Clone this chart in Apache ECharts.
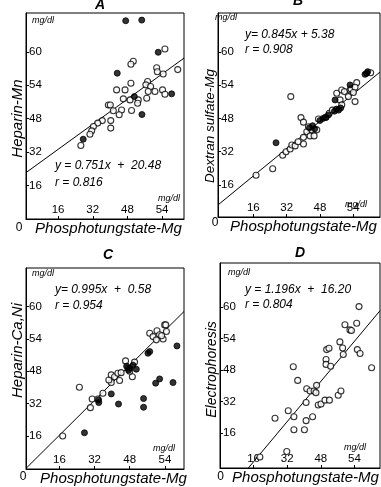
<!DOCTYPE html>
<html><head><meta charset="utf-8">
<script src="https://cdn.jsdelivr.net/npm/echarts@6/dist/echarts.min.js"></script>
<style>html,body{margin:0;padding:0;background:#fff}#c{width:381px;height:487px}</style>
</head><body><div id="c"></div>
<script>
// ---- data ----
const xTickValues = [16, 32, 48, 64];
const xTickLabels = ['16', '32', '48', '54'];
const yTickValues = [16, 32, 48, 64, 80];
const yTickLabels = ['16', '32', '48', '54', '60'];
const panelTitles = ['A', 'B', 'C', 'D'];
const yNames = ['Heparin-Mn', 'Dextran sulfate-Mg', 'Heparin-Ca,Ni', 'Electrophoresis'];
const xName = 'Phosphotungstate-Mg';
const unitText = 'mg/dl';
const originText = '0';
const equations = ['y = 0.751x  +  20.48', 'y= 0.845x + 5.38', 'y= 0.995x  +  0.58', 'y = 1.196x  +  16.20'];
const rTexts = ['r = 0.816', 'r = 0.908', 'r = 0.954', 'r = 0.804'];

const openA = [[65.3,81.4],[50.7,75.5],[49.6,74.1],[61.5,72.4],[61.8,70.5],[64.5,69.4],[71.2,71.5],[49.6,65.0],[57.3,65.8],[56.5,64.2],[58.7,63.4],[43.0,61.8],[46.9,61.8],[57.6,61.0],[60.7,61.0],[64.2,61.8],[65.3,59.7],[46.1,57.5],[49.2,57.0],[53.0,57.0],[56.9,57.8],[52.7,55.4],[39.2,54.6],[40.1,54.6],[45.3,52.2],[49.9,51.9],[41.5,51.8],[44.2,49.9],[36.4,47.1],[40.3,47.1],[34.3,45.9],[32.3,44.3],[40.3,43.5],[31.5,42.2],[30.7,40.6],[26.5,35.2]];
const filledA = [[47.2,94.9],[54.6,95.2],[62.2,79.8],[43.3,69.8],[51.2,58.6],[68.4,59.9],[54.7,50.0],[27.6,38.2]];
const lineA = [[1.2,22.2],[74.1,77.0]];

const openB = [[17.3,20.7],[25.3,23.8],[34.0,58.5],[30.1,30.3],[31.7,32.0],[33.7,33.3],[34.5,35.2],[36.1,34.8],[40.1,35.7],[38.9,48.4],[40.1,46.2],[40.1,38.9],[41.7,41.6],[43.3,39.6],[45.2,39.6],[44.1,42.5],[46.5,42.5],[47.3,47.7],[50.7,48.6],[56.1,60.1],[58.5,61.7],[57.7,56.9],[59.8,60.9],[61.7,58.5],[62.5,61.7],[63.0,62.2],[64.9,56.1],[65.7,65.2],[64.9,63.0],[64.1,60.5],[72.4,70.0],[58.5,54.5],[37.5,36.8],[42.5,44.0],[52.5,50.5],[54.0,52.0]];
const filledB = [[26.9,36.3],[43.0,43.5],[44.5,44.5],[45.5,43.0],[48.0,47.0],[49.5,48.0],[51.0,48.5],[52.1,49.7],[55.0,51.5],[56.0,52.5],[57.0,52.0],[58.0,53.0],[55.3,56.9],[62.5,64.1],[70.5,69.7],[69.7,69.2],[71.0,70.5]];
const lineB = [[-1.0,6.4],[76.9,70.3]];

const openC = [[17.5,16.0],[25.1,40.1],[30.1,30.0],[30.9,34.3],[33.5,34.3],[35.8,37.1],[39.6,42.4],[38.5,43.7],[39.6,46.2],[41.1,45.3],[43.4,43.4],[42.6,47.0],[44.1,47.3],[46.1,53.1],[47.2,49.5],[49.2,45.3],[50.2,52.5],[57.1,66.8],[58.6,65.1],[60.4,68.0],[61.6,66.0],[60.1,63.5],[63.2,63.9],[63.9,70.9],[64.4,70.9],[64.7,67.6],[62.5,65.5],[48.0,48.0]];
const filledC = [[27.4,17.6],[33.9,32.5],[33.8,33.8],[39.6,36.8],[42.9,31.8],[54.3,34.5],[54.3,30.2],[56.3,56.9],[57.1,57.7],[59.8,42.1],[61.6,44.2],[67.7,42.4],[69.5,60.5],[46.6,50.5],[48.0,49.5],[49.5,51.0],[51.0,49.0],[47.5,48.5]];
const lineC = [[0.8,0.0],[72.7,77.5]];

const openD = [[19.0,3.9],[31.8,6.7],[26.2,23.5],[32.5,27.3],[34.9,49.6],[35.2,24.3],[35.2,17.7],[37.0,42.7],[40.2,17.7],[41.0,22.3],[41.0,31.5],[41.3,38.5],[42.9,37.3],[44.1,24.3],[44.8,37.3],[45.7,36.5],[46.0,40.2],[46.8,30.2],[48.1,30.7],[50.0,32.7],[52.1,32.7],[50.8,58.3],[51.9,59.0],[50.5,53.3],[50.5,50.8],[52.7,49.9],[56.3,35.2],[57.6,37.3],[57.1,62.2],[58.4,59.1],[58.7,55.8],[59.5,70.9],[61.9,68.3],[62.6,68.0],[65.1,71.7],[65.4,58.3],[66.7,56.3],[66.2,80.1],[72.2,49.1]];
const filledD = [];
const lineD = [[13.5,-1.7],[76.2,78.0]];

// ---- layout ----
const FONT = '"Liberation Sans", Arial, sans-serif';
const panels = [
  {open: openA, filled: filledA, line: lineA, grid: {left: 26, top: 13, width: 158, height: 206}, xr: [1.2, 74.1], yr: [0, 98.6], xGap: 1.5, xPad: [0,0,0,7], yGap: 1, yPad: [0,5,0,0], yFs: 15,
   title: [100, 5], eq: [55, 165.7], r: [55, 183], unitTop: [32, 20.7], unitBot: [180, 198], origin: [19, 228]},
  {open: openB, filled: filledB, line: lineB, grid: {left: 218, top: 13, width: 162, height: 204}, xr: [-1.0, 76.9], yr: [0.6, 98.7], xGap: -2, xPad: [0,0,0,9], yGap: 0, yPad: [0,22,0,0], yFs: 13.5,
   title: [298, 1], eq: [245, 35], r: [245, 50], unitTop: [215, 17.3], unitBot: [367, 204], origin: [215, 222.7]},
  {open: openC, filled: filledC, line: lineC, grid: {left: 26, top: 268, width: 158, height: 201}, xr: [0.8, 72.7], yr: [-0.3, 99], xGap: 0.5, xPad: [0,0,0,17], yGap: 0, yPad: [0,0,0,36], yFs: 15,
   title: [108, 255], eq: [55, 289.3], r: [55, 306], unitTop: [32, 273], unitBot: [175, 448], origin: [23, 477]},
  {open: openD, filled: filledD, line: lineD, grid: {left: 220, top: 263, width: 160, height: 205}, xr: [0, 76.2], yr: [-1.7, 102.2], xGap: 1.5, xPad: [0,0,0,11], yGap: 0, yPad: [0,8,0,0], yFs: 14,
   title: [300, 253], eq: [245, 290], r: [245, 305], unitTop: [228, 272], unitBot: [366, 447], origin: [220.7, 477]}
];

const grids = [], xAxes = [], yAxes = [], series = [], graphics = [];
function txt(t, x, y, font, align) {
  graphics.push({type: 'text', x: x, y: y, silent: true,
    style: {text: t, font: font, fill: '#000', textAlign: align || 'left', textVerticalAlign: 'middle'}});
}
panels.forEach((p, i) => {
  grids.push(Object.assign({show: true, borderColor: '#000', borderWidth: 1, backgroundColor: 'transparent'}, p.grid));
  xAxes.push({
    type: 'value', gridIndex: i, min: p.xr[0], max: p.xr[1],
    axisLine: {show: true, onZero: false, lineStyle: {color: '#000', width: 1}},
    axisTick: {show: true, inside: true, length: 3, customValues: xTickValues, lineStyle: {color: '#000'}},
    axisLabel: {show: true, inside: true, margin: 3, customValues: xTickValues, color: '#000', fontSize: 11.5, fontFamily: FONT,
      formatter: v => xTickLabels[xTickValues.indexOf(v)] || ''},
    splitLine: {show: false},
    name: xName, nameLocation: 'middle', nameGap: p.xGap,
    nameTextStyle: {fontStyle: 'italic', fontSize: 15, color: '#000', fontFamily: FONT, padding: p.xPad}
  });
  yAxes.push({
    type: 'value', gridIndex: i, min: p.yr[0], max: p.yr[1],
    axisLine: {show: true, onZero: false, lineStyle: {color: '#000', width: 1}},
    axisTick: {show: true, inside: true, length: 3, customValues: yTickValues, lineStyle: {color: '#000'}},
    axisLabel: {show: true, inside: true, margin: 3, customValues: yTickValues, color: '#000', fontSize: 11.5, fontFamily: FONT,
      formatter: v => yTickLabels[yTickValues.indexOf(v)] || ''},
    splitLine: {show: false},
    name: yNames[i], nameLocation: 'middle', nameGap: p.yGap, nameRotate: 90,
    nameTextStyle: {fontStyle: 'italic', fontSize: p.yFs, color: '#000', fontFamily: FONT, padding: p.yPad}
  });
  series.push({type: 'line', xAxisIndex: i, yAxisIndex: i, data: p.line, symbol: 'none', silent: true,
    lineStyle: {color: '#000', width: 1}, z: 1});
  series.push({type: 'scatter', xAxisIndex: i, yAxisIndex: i, data: p.open, symbol: 'circle', symbolSize: 6,
    itemStyle: {color: '#fff', borderColor: '#000', borderWidth: 1.1}, z: 2});
  series.push({type: 'scatter', xAxisIndex: i, yAxisIndex: i, data: p.filled, symbol: 'circle', symbolSize: 6,
    itemStyle: {color: '#000', borderColor: '#000', borderWidth: 1}, z: 3});
  txt(panelTitles[i], p.title[0], p.title[1], 'italic bold 14px ' + FONT, 'center');
  txt(equations[i], p.eq[0], p.eq[1], 'italic 12px ' + FONT, 'left');
  txt(rTexts[i], p.r[0], p.r[1], 'italic 12px ' + FONT, 'left');
  txt(unitText, p.unitTop[0], p.unitTop[1], 'italic 9px ' + FONT, 'left');
  txt(unitText, p.unitBot[0], p.unitBot[1], 'italic 9px ' + FONT, 'right');
  txt(originText, p.origin[0], p.origin[1], '12px ' + FONT, 'center');
});

const chart = echarts.init(document.getElementById('c'), null, {renderer: 'canvas'});
chart.setOption({
  animation: false,
  backgroundColor: '#fff',
  grid: grids, xAxis: xAxes, yAxis: yAxes, series: series, graphic: graphics
});
</script>
</body></html>
